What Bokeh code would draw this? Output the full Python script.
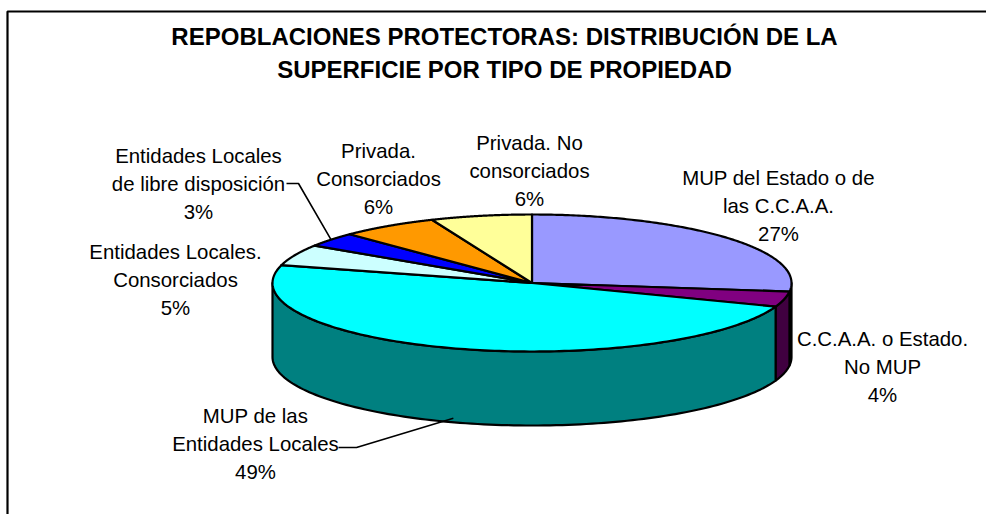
import numpy as np
from bokeh.plotting import figure
from bokeh.models import Range1d
from bokeh.core.properties import value
from bokeh.embed import file_html
from bokeh.resources import INLINE

# data
names = ["MUP del Estado o de las C.C.A.A.", "C.C.A.A. o Estado. No MUP",
         "MUP de las Entidades Locales", "Entidades Locales. Consorciados",
         "Entidades Locales de libre disposición", "Privada. Consorciados",
         "Privada. No consorciados"]
shares = [27.0, 3.6, 48.6, 5.0, 3.4, 6.1, 6.3]
top_colors = ["#9999FF", "#800080", "#00FFFF", "#CCFFFF", "#0000FF", "#FF9900", "#FFFF99"]
side_colors = ["#4C4C80", "#400040", "#008080", "#668080", "#000080", "#804C00", "#80804C"]
label_lines = [["MUP del Estado o de", "las C.C.A.A."], ["C.C.A.A. o Estado.", "No MUP"],
               ["MUP de las", "Entidades Locales"], ["Entidades Locales.", "Consorciados"],
               ["Entidades Locales", "de libre disposición"], ["Privada.", "Consorciados"],
               ["Privada. No", "consorciados"]]
title_lines = ["REPOBLACIONES PROTECTORAS: DISTRIBUCIÓN DE LA", "SUPERFICIE POR TIPO DE PROPIEDAD"]

# layout (page pixels)
CX, CY, RX, RY, DEPTH = 531.5, 282.5, 259.5, 68.5, 74
label_xy = [(778, 177), (882, 338), (255, 415), (175, 251), (198, 155), (378, 150), (529, 142)]
LINE_H = 28
FONT = value("Liberation Sans")


def ell(theta_deg):
    t = np.radians(theta_deg)
    return CX + RX * np.sin(t), CY - RY * np.cos(t)


p = figure(width=986, height=514, x_range=Range1d(0, 986), y_range=Range1d(514, 0),
           output_backend="svg", toolbar_location=None, min_border=0,
           outline_line_color=None, background_fill_color="white")
p.axis.visible = False
p.grid.visible = False

# frame
p.line([986, 7, 7], [11, 11, 514], line_color="black", line_width=2.2)

edges = np.cumsum([0] + shares) / sum(shares) * 360

# walls (only the near half, theta 90..270)
wx, wy, wc = [], [], []
for i in range(len(shares)):
    a, b = max(edges[i], 90), min(edges[i + 1], 270)
    if b <= a:
        continue
    th = np.linspace(a, b, 120)
    x, y = ell(th)
    wx.append(np.r_[x, x[::-1]])
    wy.append(np.r_[y, y[::-1] + DEPTH])
    wc.append(side_colors[i])
p.patches(wx, wy, fill_color=wc, line_color="black", line_width=2.2, line_join="round")

# top faces
tx, ty = [], []
for i in range(len(shares)):
    th = np.linspace(edges[i], edges[i + 1], 160)
    x, y = ell(th)
    tx.append(np.r_[CX, x])
    ty.append(np.r_[CY, y])
p.patches(tx, ty, fill_color=top_colors, line_color="black", line_width=2.2, line_join="round")

# labels
txt_x, txt_y, txt = [], [], []
for i, lines in enumerate(label_lines):
    lx, ly = label_xy[i]
    for j, s in enumerate(lines + [f"{round(shares[i])}%"]):
        txt_x.append(lx)
        txt_y.append(ly + j * LINE_H)
        txt.append(s)
p.text(txt_x, txt_y, text=txt, text_font=FONT, text_font_size="20.4px", text_color="black",
       text_align="center", text_baseline="middle")

# leader lines
mid = (edges[:-1] + edges[1:]) / 2
ex, ey = ell(mid[4])
p.line([286, 298, ex], [183, 183, ey], line_color="black", line_width=1.6)
ex, ey = ell(mid[2])
p.line([338, 356, ex], [447, 447, ey + DEPTH - 4], line_color="black", line_width=1.6)

# title
p.text([504, 504], [36, 69], text=title_lines, text_font=FONT, text_font_size="24px",
       text_font_style="bold", text_color="black", text_align="center", text_baseline="middle")

open("out.html", "w").write(file_html(p, INLINE))
